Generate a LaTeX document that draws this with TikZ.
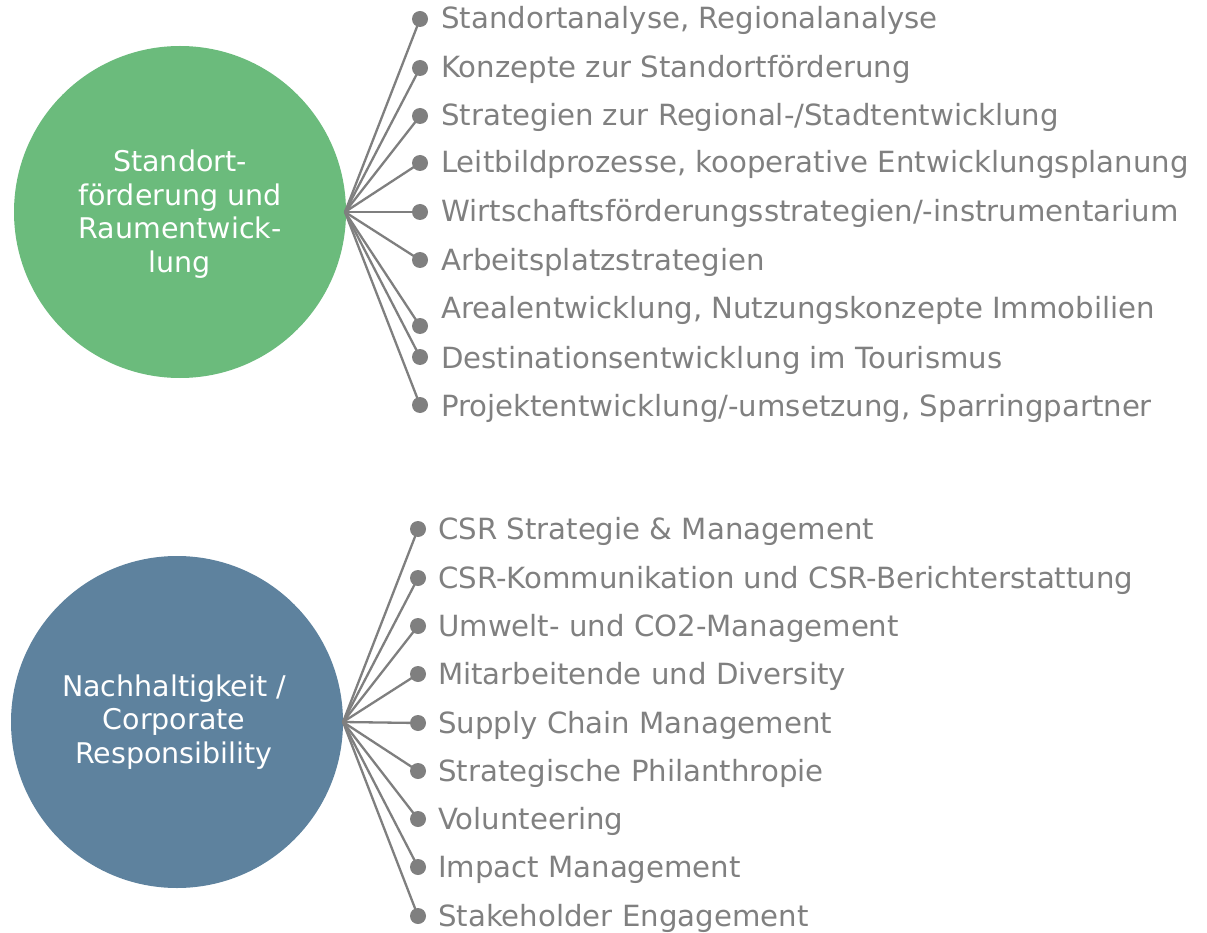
\documentclass[tikz,border=0pt]{standalone}
\usepackage{fontspec}
\setmainfont{DejaVu Sans}
\definecolor{hubgreen}{HTML}{6BBB7C}
\definecolor{hubblue}{HTML}{5E829E}
\definecolor{linegray}{HTML}{7F7F7F}
\definecolor{textgray}{HTML}{808080}
\tikzset{
  hub/.style={circle, inner sep=0pt, minimum size=332pt},
  hubtext/.style={text=white, align=center, font=\fontsize{28.5}{33.6}\selectfont},
  bullet/.style={circle, fill=linegray, inner sep=0pt, minimum size=16pt},
  item/.style={anchor=base west, inner sep=0pt, text=textgray, font=\fontsize{29.2}{34}\selectfont},
  spoke/.style={draw=linegray, line width=2.3pt}
}
\begin{document}
\begin{tikzpicture}[x=1pt, y=-1pt]
\useasboundingbox (0,0) rectangle (1207,933);

% upper group: location promotion
\node[hub, fill=hubgreen] (c1) at (180,212) {};
\node[hubtext] (t1) at (180,214) {Standort-\\förderung und\\Raumentwick-\\lung};
\coordinate (h1) at (345,212);
\foreach \i/\dy/\ty/\txt in {
  1/19/19/{Standortanalyse, Regionalanalyse},
  2/68/68/{Konzepte zur Standortförderung},
  3/116/116/{Strategien zur Regional-/Stadtentwicklung},
  4/163/163/{Leitbildprozesse, kooperative Entwicklungsplanung},
  5/212/212/{Wirtschaftsförderungsstrategien/-instrumentarium},
  6/260/261/{Arbeitsplatzstrategien},
  7/326/309/{Arealentwicklung, Nutzungskonzepte Immobilien},
  8/357/358/{Destinationsentwicklung im Tourismus},
  9/405/406/{Projektentwicklung/-umsetzung, Sparringpartner}}{
  \node[bullet] (a\i) at (420,\dy) {};
  \node[item] (la\i) at (441,\ty+10) {\txt};
  \draw[spoke] (h1) -- (a\i.center);
}

% lower group: sustainability
\node[hub, fill=hubblue] (c2) at (177,722) {};
\node[hubtext] (t2) at (174,722) {Nachhaltigkeit /\\Corporate\\Responsibility};
\coordinate (h2) at (343,722);
\foreach \i/\dy/\txt in {
  1/529/{CSR Strategie \& Management},
  2/578/{CSR-Kommunikation und CSR-Berichterstattung},
  3/626/{Umwelt- und CO2-Management},
  4/674/{Mitarbeitende und Diversity},
  5/723/{Supply Chain Management},
  6/771/{Strategische Philanthropie},
  7/819/{Volunteering},
  8/867/{Impact Management},
  9/916/{Stakeholder Engagement}}{
  \node[bullet] (b\i) at (418,\dy) {};
  \node[item] (lb\i) at (438,\dy+10) {\txt};
  \draw[spoke] (h2) -- (b\i.center);
}
\end{tikzpicture}
\end{document}
